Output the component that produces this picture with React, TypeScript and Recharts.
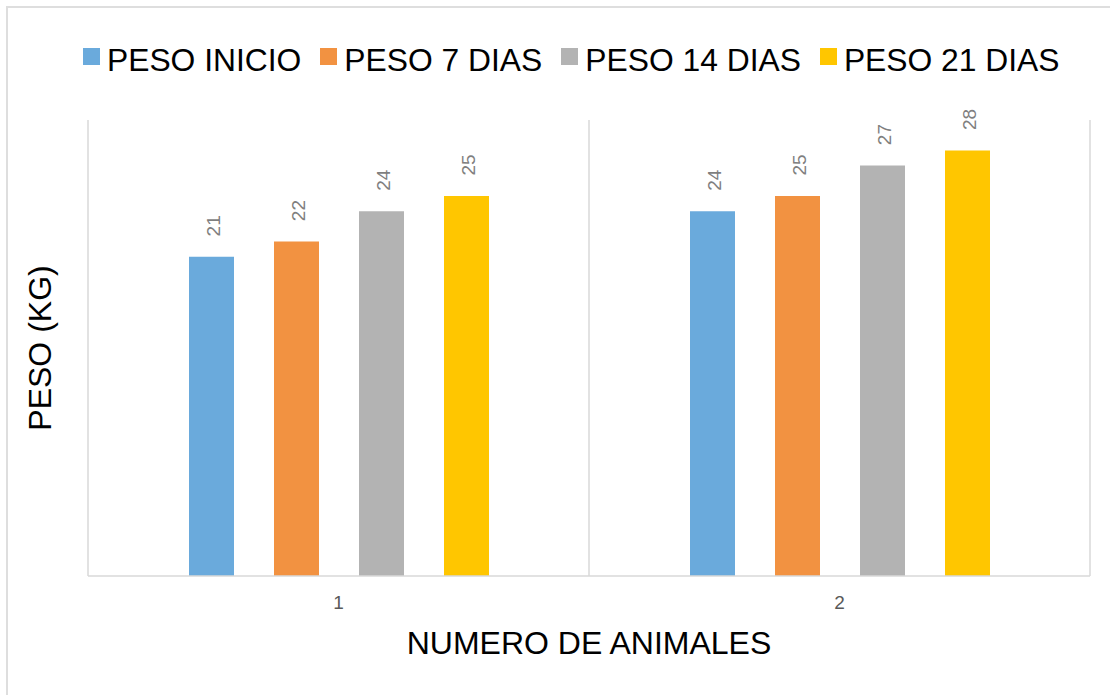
import React from "react";
import { Bar, BarChart, CartesianGrid, Label, LabelList, Legend, XAxis, YAxis } from "recharts";

const categories = ["1", "2"];
const pesoInicio = [21, 24];
const peso7 = [22, 25];
const peso14 = [24, 27];
const peso21 = [25, 28];

const SERIES = [
  { key: "inicio", name: "PESO INICIO", color: "#6aaadc", values: pesoInicio },
  { key: "d7", name: "PESO 7 DIAS", color: "#f29241", values: peso7 },
  { key: "d14", name: "PESO 14 DIAS", color: "#b3b3b3", values: peso14 },
  { key: "d21", name: "PESO 21 DIAS", color: "#ffc600", values: peso21 },
];

const data = categories.map((c, i) => {
  const row: Record<string, string | number> = { cat: c };
  SERIES.forEach((s) => (row[s.key] = s.values[i]));
  return row;
});

const FONT = '"Liberation Sans", Arial, sans-serif';

function RotLabel(props: any) {
  const { x, y, width, value } = props;
  const cx = x + width / 2 + 2;
  const cy = y - 31;
  return (
    <text x={cx} y={cy} transform={`rotate(-90 ${cx} ${cy})`} textAnchor="middle"
          dominantBaseline="central" fill="#7f7f7f" fontSize={19} fontFamily={FONT}>
      {value}
    </text>
  );
}

function LegendRow() {
  return (
    <div style={{ display: "flex", fontFamily: FONT, fontSize: 31.8, lineHeight: "32px", color: "#000" }}>
      {SERIES.map((s) => (
        <div key={s.key} style={{ display: "flex", alignItems: "flex-start", marginRight: 19 }}>
          <span style={{ width: 17, height: 17, background: s.color, marginTop: 4, marginRight: 7 }} />
          <span style={{ whiteSpace: "nowrap" }}>{s.name}</span>
        </div>
      ))}
    </div>
  );
}

export default function App() {
  return (
    <div style={{ position: "absolute", left: 0, top: 0, width: 1110, height: 695, overflow: "hidden", background: "#fff" }}>
      <div style={{ position: "absolute", left: 6, top: 6, width: 1200, height: 800, border: "2px solid #dedede" }} />
      <BarChart width={1110} height={695} data={data} barSize={45} barGap={40}
                margin={{ top: 88, right: 20, left: 0, bottom: 64 }} style={{ fontFamily: FONT }}>
        <CartesianGrid horizontal={false} stroke="#d9d9d9" strokeWidth={1.5}
          verticalCoordinatesGenerator={({ offset }: any) =>
            Array.from({ length: categories.length + 1 }, (_, i) => offset.left + (i * offset.width) / categories.length)
          } />
        <XAxis dataKey="cat" height={55} tickLine={false} tickSize={6} tickMargin={14}
               axisLine={{ stroke: "#d9d9d9", strokeWidth: 1.5 }}
               tick={{ fill: "#595959", fontSize: 19, fontFamily: FONT }}>
          <Label value="NUMERO DE ANIMALES" position="bottom" offset={0} fill="#000" fontSize={32} fontFamily={FONT} />
        </XAxis>
        <YAxis width={88} domain={[0, 30]} axisLine={false} tickLine={false} tick={false}>
          <Label value="PESO (KG)" position="center" angle={-90} fill="#000" fontSize={32} fontFamily={FONT} dx={-4} />
        </YAxis>
        <Legend verticalAlign="top" wrapperStyle={{ left: 83, top: 44, width: "auto" }} content={() => <LegendRow />} />
        {SERIES.map((s) => (
          <Bar key={s.key} dataKey={s.key} name={s.name} fill={s.color} isAnimationActive={false}>
            <LabelList dataKey={s.key} content={<RotLabel />} />
          </Bar>
        ))}
      </BarChart>
    </div>
  );
}
